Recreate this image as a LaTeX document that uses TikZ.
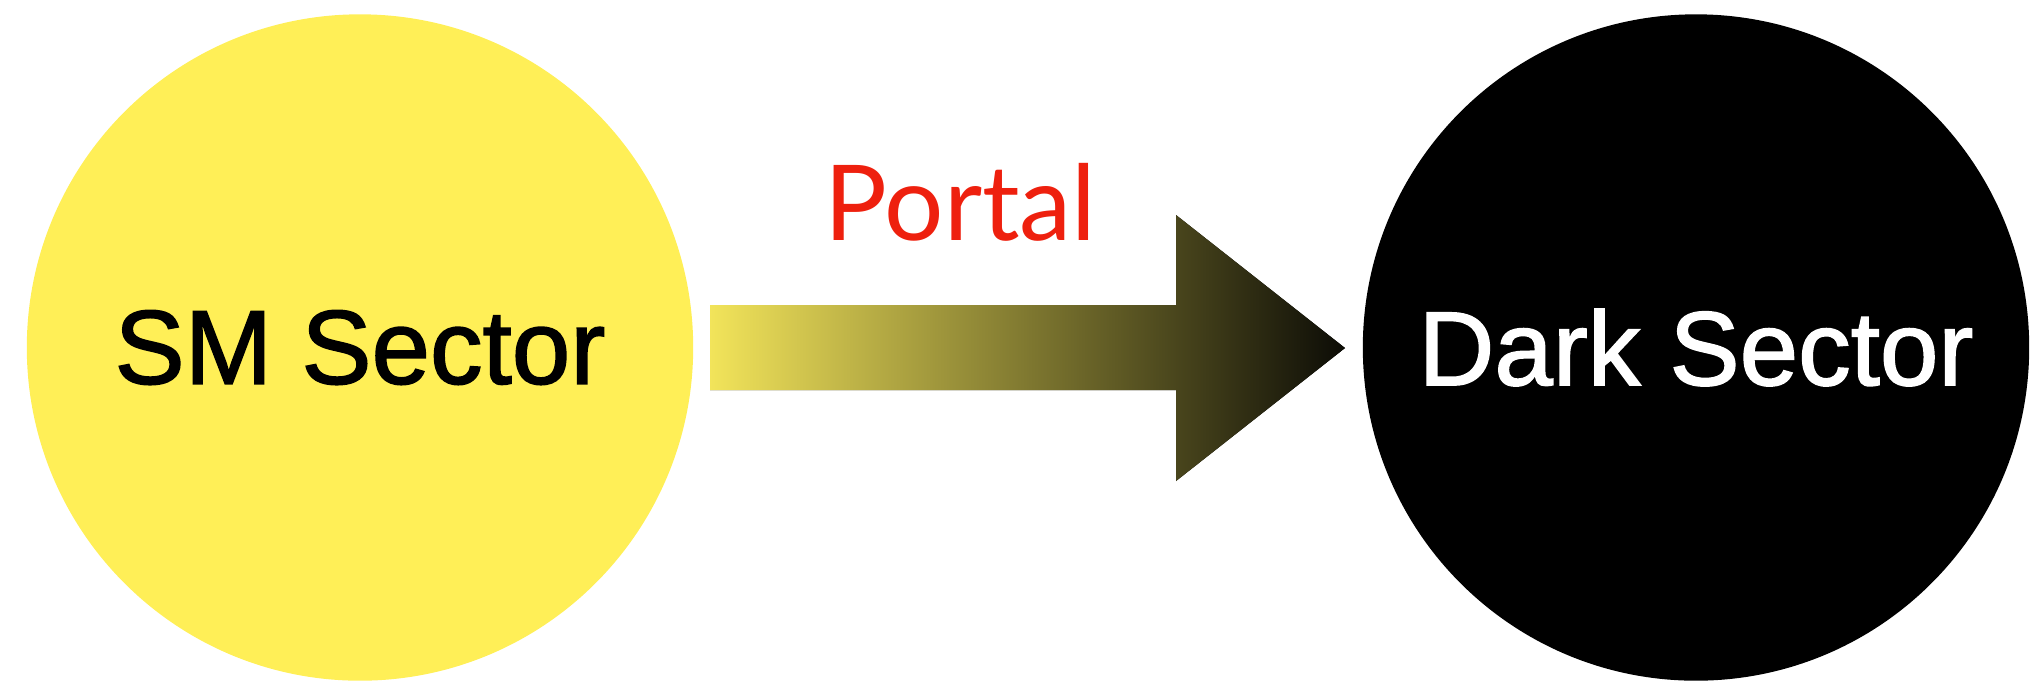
\documentclass[tikz,border=0pt]{standalone}
\usepackage{fontspec}
\setmainfont{Liberation Sans}
\newfontfamily\sectorfont{Liberation Sans}[FakeBold=1.5]
\newfontfamily\portalfont{Lato}
\definecolor{smyellow}{RGB}{255,239,87}
\definecolor{portalred}{RGB}{238,32,14}
\definecolor{arrowstart}{RGB}{242,228,90}
\definecolor{arrowend}{RGB}{12,12,6}
\begin{document}
\begin{tikzpicture}[x=0.01cm,y=-0.01cm,
  sector/.style={circle, minimum size=6.66cm, inner sep=0pt, draw=none,
    font=\sectorfont\fontsize{29.9}{36}\selectfont},
  portallabel/.style={anchor=base, inner sep=0pt, text=portalred,
    font=\portalfont\fontsize{29.8}{36}\selectfont},
  portalarrow/.style={left color=arrowstart, right color=arrowend, draw=none}]
\useasboundingbox (0,0) rectangle (2030,684);
\node[sector, fill=smyellow, text=black] (sm) at (360,347.5) {SM Sector};
\node[sector, fill=black, text=white] (dark) at (1696,347.5) {Dark Sector};
\node[portallabel] (portal) at (960.5,240) {Portal};
\fill[portalarrow] (710,305) -- (1176,305) -- (1176,215) -- (1345,348)
  -- (1176,481) -- (1176,390) -- (710,390) -- cycle;
\end{tikzpicture}
\end{document}
